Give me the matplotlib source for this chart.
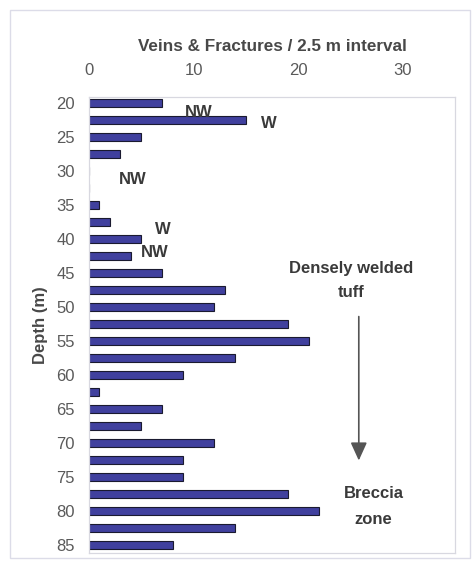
import matplotlib
matplotlib.use("Agg")
import matplotlib.pyplot as plt
from matplotlib.patches import Rectangle

plt.rcParams['font.family'] = ['Liberation Sans', 'DejaVu Sans']

depths = [20, 22.5, 25, 27.5, 30, 32.5, 35, 37.5, 40, 42.5, 45, 47.5, 50,
          52.5, 55, 57.5, 60, 62.5, 65, 67.5, 70, 72.5, 75, 77.5, 80, 82.5, 85]
counts = [7, 15, 5, 3, 0, 0, 1, 2, 5, 4, 7, 13, 12,
          19, 21, 14, 9, 1, 7, 5, 12, 9, 9, 19, 22, 14, 8]
depth_ticks = list(range(20, 90, 5))
count_ticks = [0, 10, 20, 30]

# orientation notes: (label, count position, depth position)
notes = [("NW", 10.5, 21.4), ("W", 17.2, 23.0), ("NW", 4.2, 31.2),
         ("W", 7.1, 38.6), ("NW", 6.3, 42.0)]

fig = plt.figure(figsize=(4.77, 5.63), dpi=100)
fig.patch.set_facecolor('white')
fig.add_artist(Rectangle((10 / 477, 1 - 558 / 563), 460 / 477, 548 / 563,
                         transform=fig.transFigure, fill=False,
                         edgecolor='#dcdce8', linewidth=1.0))

ax = fig.add_axes([89 / 477, 1 - 553 / 563, 366 / 477, 456 / 563])
ax.barh(depths, counts, height=1.1, color='#40409e', edgecolor='#1a1a30',
        linewidth=0.8)

ax.set_xlim(0, 35)
ax.set_ylim(86.2, 19.1)
ax.xaxis.tick_top()
ax.xaxis.set_label_position('top')
ax.set_xticks(count_ticks)
ax.set_yticks(depth_ticks)
ax.tick_params(axis='both', length=0, labelsize=12, colors='#5a5a5a')
ax.tick_params(axis='x', pad=14)
ax.tick_params(axis='y', pad=10)
ax.set_xlabel('Veins & Fractures / 2.5 m interval', fontsize=12.3,
              fontweight='bold', color='#484848', labelpad=8)
ax.set_ylabel('Depth (m)', fontsize=12, fontweight='bold', color='#484848',
              labelpad=6)
for s in ax.spines.values():
    s.set_color('#d8d8e0')
    s.set_linewidth(0.9)

for label, x, y in notes:
    ax.text(x, y, label, fontsize=12, fontweight='bold', color='#3a3a3a',
            ha='center', va='center')

ax.text(25.1, 44.4, 'Densely welded', fontsize=12, fontweight='bold',
        color='#3a3a3a', ha='center', va='center')
ax.text(25.1, 47.9, 'tuff', fontsize=12, fontweight='bold',
        color='#3a3a3a', ha='center', va='center')
ax.annotate('', xy=(25.8, 73.0), xytext=(25.8, 51.0),
            arrowprops=dict(arrowstyle='-|>,head_length=1.1,head_width=0.5',
                            color='#555555', linewidth=1.2))
ax.text(27.2, 77.5, 'Breccia', fontsize=12, fontweight='bold',
        color='#3a3a3a', ha='center', va='center')
ax.text(27.2, 81.2, 'zone', fontsize=12, fontweight='bold',
        color='#3a3a3a', ha='center', va='center')

fig.savefig('out.png', dpi=100, facecolor='white')
